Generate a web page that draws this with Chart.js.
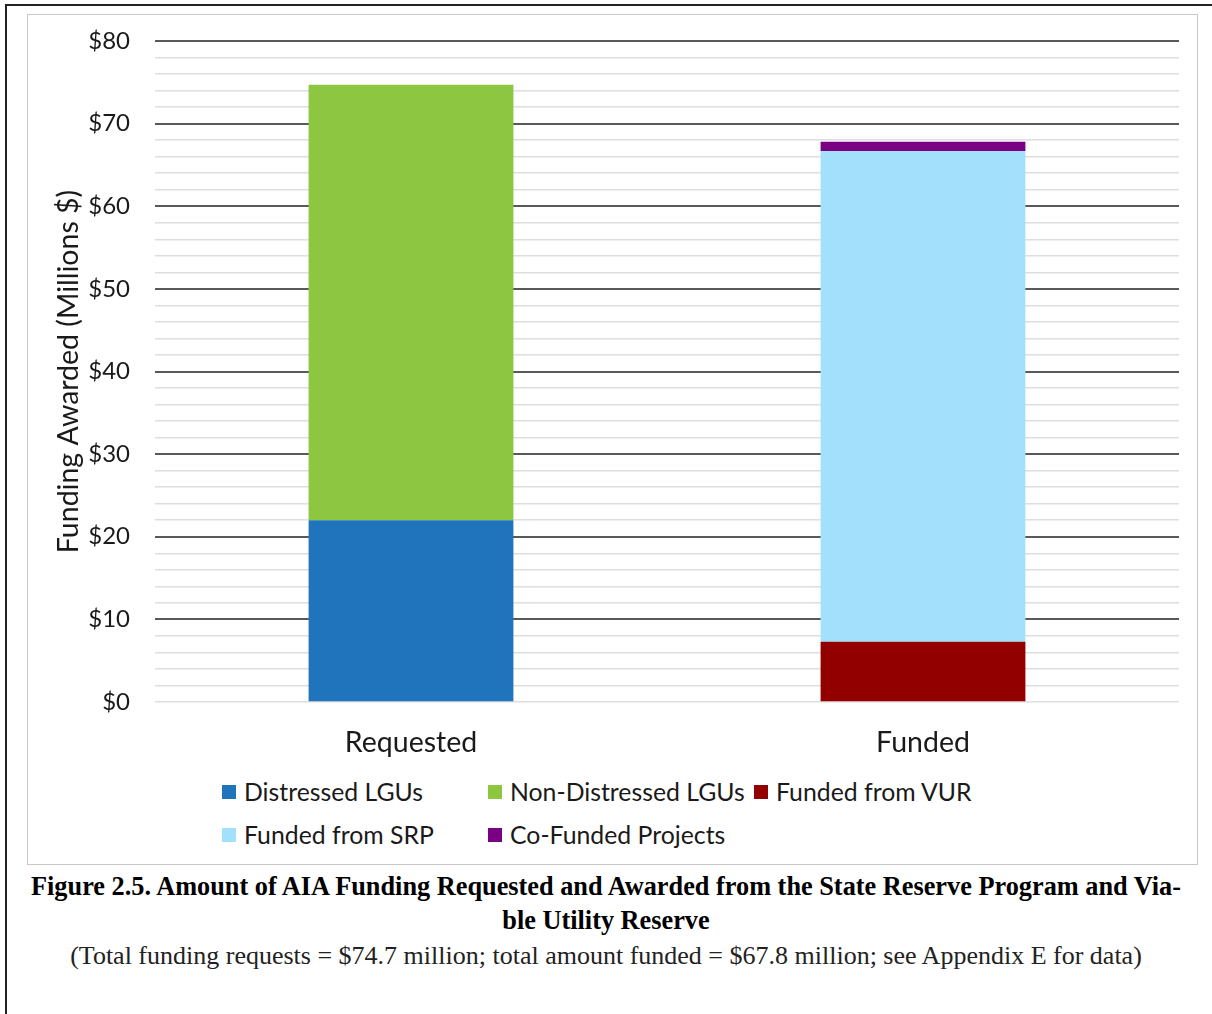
<!DOCTYPE html>
<html>
<head>
<meta charset="utf-8">
<script src="https://cdn.jsdelivr.net/npm/chart.js@4.4.1/dist/chart.umd.min.js"></script>
<style>
  body { margin: 0; background: #fff; width: 1212px; height: 1014px; overflow: hidden; position: relative; }
  #frame { position: absolute; left: 5px; top: 4px; width: 1230px; height: 1040px; border-left: 2px solid #222; border-top: 2px solid #222; }
  #box { position: absolute; left: 27px; top: 14px; width: 1171px; height: 851px; border: 1px solid #c8c8c8; box-sizing: border-box; background: #fff; }
  #wrap { position: absolute; left: 0; top: 0; width: 1169px; height: 757px; }
  #legend { position: absolute; left: 194px; top: 762px; font-family: Lato, "Open Sans", sans-serif; font-size: 24.8px; color: #1a1a1a; }
  .item { position: absolute; white-space: nowrap; display: flex; align-items: center; }
  .sw { width: 14px; height: 14px; margin-right: 8px; }
  #caption { position: absolute; left: 0; top: 870px; width: 1212px; text-align: center; font-family: "Liberation Serif", serif; }
  #caption .t { font-weight: bold; font-size: 26.3px; line-height: 34px; color: #000; }
  #caption .s { font-size: 26px; line-height: 30px; margin-top: 3px; color: #222; }
</style>
</head>
<body>
<div id="frame"></div>
<div id="box">
  <div id="wrap"><canvas id="chart"></canvas></div>
  <div id="legend"></div>
</div>
<div id="caption">
  <div class="t">Figure 2.5. Amount of AIA Funding Requested and Awarded from the State Reserve Program and Via-<br>ble Utility Reserve</div>
  <div class="s">(Total funding requests = $74.7 million; total amount funded = $67.8 million; see Appendix E for data)</div>
</div>
<script>
// Categorías y valores (millones de $)
const categories = ['Requested', 'Funded'];
const distressed = [22.0, null];
const nonDistressed = [52.7, null];
const fundedVUR = [null, 7.3];
const fundedSRP = [null, 59.4];
const coFunded = [null, 1.1];

const seriesNames = ['Distressed LGUs', 'Non-Distressed LGUs', 'Funded from VUR', 'Funded from SRP', 'Co-Funded Projects'];
const seriesColors = ['#1f74bb', '#8dc641', '#930000', '#a3e0fb', '#7a0083'];
const seriesData = [distressed, nonDistressed, fundedVUR, fundedSRP, coFunded];

const font = 'Lato, "Open Sans", sans-serif';

const chart = new Chart(document.getElementById('chart'), {
    type: 'bar',
    data: {
        labels: categories,
        datasets: seriesData.map((d, i) => ({
            label: seriesNames[i],
            data: d,
            backgroundColor: seriesColors[i],
            borderWidth: 0,
            barPercentage: 0.8,
            categoryPercentage: 0.5,
            skipNull: true
        }))
    },
    options: {
        responsive: false,
        animation: false,
        maintainAspectRatio: false,
        layout: { padding: { top: 26, right: 18, left: 24, bottom: 0 } },
        plugins: {
            legend: { display: false },
            tooltip: { enabled: false }
        },
        scales: {
            x: {
                stacked: true,
                grid: { display: false },
                border: { display: false },
                ticks: { color: '#1a1a1a', font: { family: font, size: 28.5 }, padding: 16 },
                afterFit: s => { s.height = 70; }
            },
            y: {
                stacked: true,
                min: 0,
                max: 80,
                border: { display: false },
                grid: {
                    drawTicks: false,
                    color: c => (c.tick.value % 10 === 0 && c.tick.value !== 0) ? '#595959' : '#dedede',
                    lineWidth: c => (c.tick.value % 10 === 0 && c.tick.value !== 0) ? 2 : 1.5
                },
                ticks: {
                    stepSize: 2,
                    autoSkip: false,
                    padding: 25,
                    color: '#1a1a1a',
                    font: { family: font, size: 24 },
                    callback: v => v % 10 === 0 ? '$' + v : ''
                },
                title: {
                    display: true,
                    text: 'Funding Awarded (Millions $)',
                    color: '#1a1a1a',
                    font: { family: font, size: 28.5 },
                    padding: { top: 0, bottom: 0 }
                },
                afterFit: s => {
                    s.width = 103;
                    s.paddingTop = 0;
                    s.paddingBottom = 0;
                }
            }
        }
    }
});
chart.canvas.parentNode.style.height = '757px';
chart.resize(1169, 757);

// Leyenda en HTML con la disposición de tres columnas
const legendEl = document.getElementById('legend');
const cols = [0, 266, 532];
chart.data.datasets.forEach((ds, i) => {
    const item = document.createElement('div');
    item.className = 'item';
    item.style.left = cols[i % 3] + 'px';
    item.style.top = (Math.floor(i / 3) * 43) + 'px';
    item.innerHTML = '<span class="sw" style="background:' + ds.backgroundColor + '"></span>' + ds.label;
    legendEl.appendChild(item);
});
</script>
</body>
</html>
